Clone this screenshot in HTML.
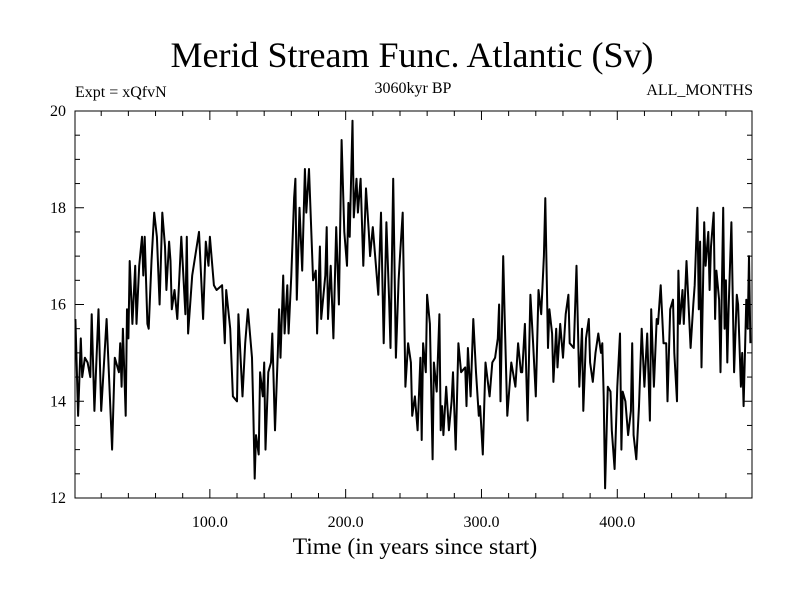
<!DOCTYPE html>
<html><head><meta charset="utf-8"><style>
body{margin:0;background:#fff;}
svg{display:block;font-family:"Liberation Serif",serif;}
</style></head><body>
<svg id="chart" width="800" height="600">
<text x="412" y="67" font-size="36" text-anchor="middle">Merid Stream Func. Atlantic (Sv)</text>
<text x="75" y="97" font-size="16">Expt = xQfvN</text>
<text x="413" y="93" font-size="16" text-anchor="middle">3060kyr BP</text>
<text x="753" y="95" font-size="16" text-anchor="end">ALL_MONTHS</text>
<text x="415" y="554" font-size="23.5" text-anchor="middle">Time (in years since start)</text>
<g id="axes"></g>
<path id="series" fill="none" stroke="#000" stroke-width="2" stroke-linejoin="round"></path>
<rect x="75" y="111" width="677" height="387" fill="none" stroke="#000" stroke-width="1"></rect>
</svg>
<script>
const years=[1,3,5,6,8,10,12,13,15,18,20,24,28,30,33,34,35,36,38,39,40,41,43,45,46,48,50,51,52,54,55,57,59,61,63,65,67,68,70,71,72,74,76,79,82,83,84,87,92,95,97,99,100,103,105,109,111,112,115,117,120,121,124,126,128,131,132,133,134,136,137,139,140,141,143,145,146,148,150,151,152,154,155,157,158,160,162,163,164,166,168,170,171,173,176,178,179,181,182,185,186,187,189,191,193,195,197,199,201,202,203,205,206,208,209,211,213,215,217,218,220,224,226,228,230,232,233,235,237,239,240,242,244,246,248,249,251,253,255,256,257,259,260,262,264,265,267,269,270,271,272,274,276,278,279,281,283,285,288,289,290,292,294,296,298,299,301,303,306,308,310,312,313,314,316,317,319,322,325,327,329,330,332,334,336,338,340,342,344,346,347,349,350,352,353,355,356,358,360,362,364,365,368,370,372,374,375,377,379,380,382,384,386,388,389,390,391,393,395,396,398,400,402,403,404,406,408,410,411,412,414,416,418,420,422,424,425,427,429,430,432,434,436,437,439,441,442,444,445,446,448,449,451,454,456,457,459,460,461,462,464,465,467,468,469,471,472,473,475,476,478,479,480,481,482,484,486,488,489,491,492,493,495,496,497,498];
const values=[15.7,13.7,15.3,14.5,14.9,14.8,14.5,15.8,13.8,15.9,13.8,15.7,13.0,14.9,14.6,15.2,14.3,15.5,13.7,15.9,15.3,16.9,15.6,16.8,15.6,16.8,17.4,16.6,17.4,15.6,15.5,16.9,17.9,17.4,16.0,17.9,17.2,16.3,17.3,16.9,15.9,16.3,15.7,17.4,15.8,17.4,15.4,16.6,17.5,15.7,17.3,16.8,17.4,16.4,16.3,16.4,15.2,16.3,15.5,14.1,14.0,15.8,14.1,15.2,15.9,14.9,13.8,12.4,13.3,12.9,14.6,14.1,14.8,13.0,14.6,14.8,15.4,13.4,15.0,15.9,14.9,16.6,15.4,16.4,15.4,16.6,18.2,18.6,16.1,18.0,16.7,18.8,17.9,18.8,16.5,16.7,15.4,17.2,15.7,16.6,17.6,15.7,16.8,15.3,17.6,16.0,19.4,17.5,16.8,18.1,17.4,19.8,17.8,18.6,17.9,18.6,16.8,18.4,17.5,17.0,17.6,16.2,17.9,15.2,17.7,16.1,15.1,18.6,14.9,16.5,17.0,17.9,14.3,15.2,14.8,13.7,14.1,13.4,14.9,13.2,15.2,14.6,16.2,15.6,12.8,14.8,14.2,15.8,13.4,13.9,13.3,14.3,13.4,14.0,14.6,13.0,15.2,14.6,14.7,13.9,15.1,14.1,15.7,14.6,13.7,13.9,12.9,14.8,14.1,14.8,14.9,15.3,16.0,14.0,17.0,15.8,13.7,14.8,14.3,15.2,14.6,14.6,15.6,13.6,16.2,15.2,14.1,16.3,15.8,17.0,18.2,15.1,15.9,15.4,14.4,15.5,14.7,15.6,14.9,15.8,16.2,15.2,15.1,16.8,14.3,15.5,13.8,15.3,15.7,14.8,14.4,15.0,15.4,15.0,15.2,14.1,12.2,14.3,14.2,13.4,12.6,14.3,15.4,13.0,14.2,14.0,13.3,13.8,15.2,13.3,12.8,13.9,15.5,14.3,15.4,13.6,15.9,14.3,15.7,15.6,16.4,15.2,15.2,14.0,15.9,16.1,15.0,14.0,16.7,15.6,16.3,15.6,16.9,15.1,16.0,16.4,18.0,15.9,17.3,14.7,17.7,16.8,17.5,16.3,17.2,17.9,15.7,16.7,16.1,14.6,18.0,15.5,16.5,14.8,15.9,17.7,14.6,16.2,16.0,14.3,15.0,13.9,16.1,15.5,17.0,15.2];
const xTicks=[100,200,300,400];
const xTickLabels=["100.0","200.0","300.0","400.0"];
const yTicks=[12,14,16,18,20];
const yTickLabels=["12","14","16","18","20"];
const X0=75,X1=752,Y0=111,Y1=498,XMIN=0.7,XMAX=499.2,YMIN=12,YMAX=20;
function sx(v){return X0+(v-XMIN)/(XMAX-XMIN)*(X1-X0);}
function sy(v){return Y1-(v-YMIN)/(YMAX-YMIN)*(Y1-Y0);}
const NS="http://www.w3.org/2000/svg";
const g=document.getElementById('axes');
function line(x1,y1,x2,y2,name){const l=document.createElementNS(NS,'line');
l.setAttribute('x1',x1);l.setAttribute('y1',y1);l.setAttribute('x2',x2);l.setAttribute('y2',y2);
l.setAttribute('stroke','#000');l.setAttribute('stroke-width','1');


g.appendChild(l);}
function txt(x,y,s,anchor,name){const t=document.createElementNS(NS,'text');
t.setAttribute('x',x);t.setAttribute('y',y);t.setAttribute('font-size','16');t.setAttribute('text-anchor',anchor);t.textContent=s;


g.appendChild(t);}
for(let v=20;v<=480;v+=20){const x=sx(v);const major=v%100===0;const L=major?9:5;
line(x,Y1,x,Y1-L,'x-tick');line(x,Y0,x,Y0+L,'x-tick-top');}
xTicks.forEach((v,i)=>txt(sx(v),527,xTickLabels[i],'middle','x-tick-label'));
for(let v=12;v<=20;v+=0.5){const y=sy(v);const major=v%2===0;const L=major?9:5;
line(X0,y,X0+L,y,'y-tick');line(X1,y,X1-L,y,'y-tick-right');}
yTicks.forEach((v,i)=>txt(66,sy(v)+5,yTickLabels[i],'end','y-tick-label'));
let d='';years.forEach((yr,i)=>{d+=(i?'L':'M')+sx(yr).toFixed(1)+' '+sy(values[i]).toFixed(1);});
document.getElementById('series').setAttribute('d',d);
</script>
</body></html>
